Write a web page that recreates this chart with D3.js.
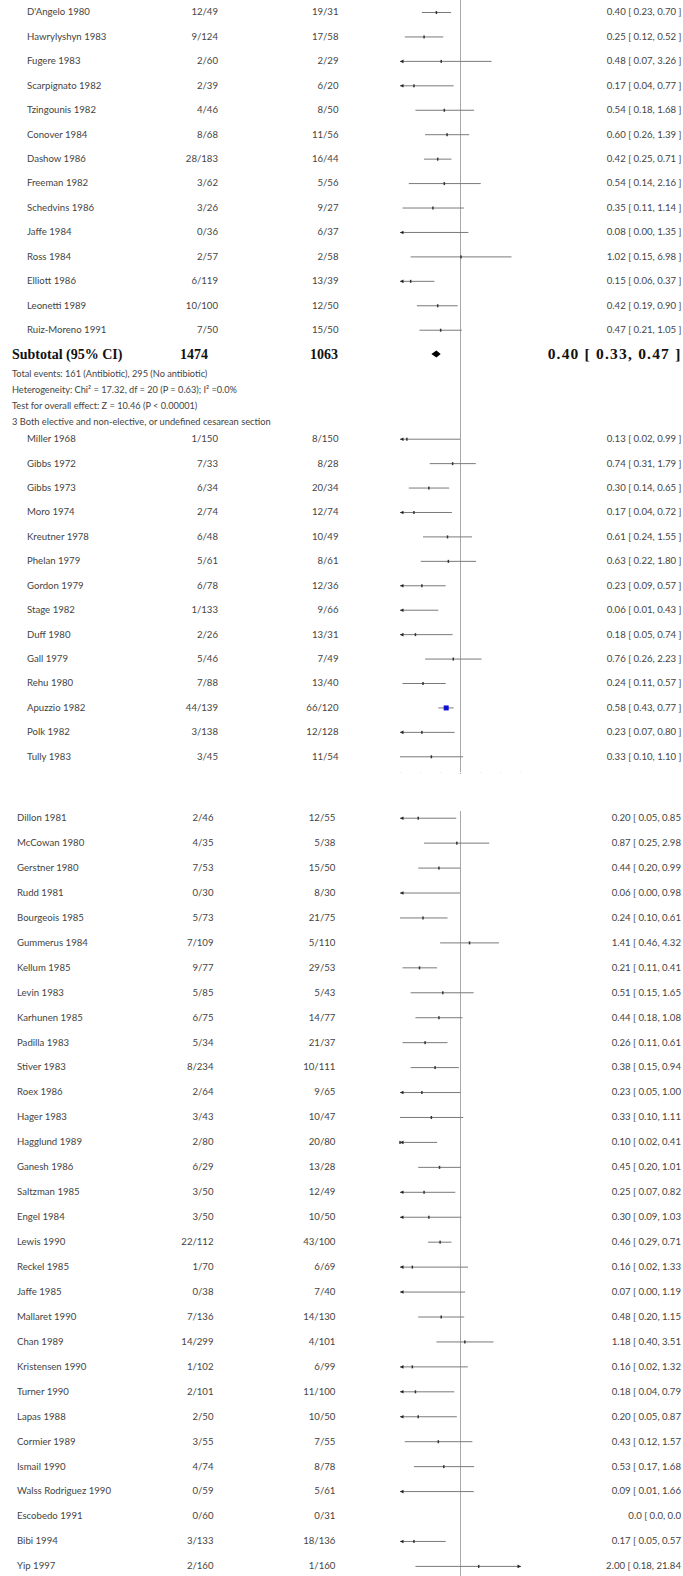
<!DOCTYPE html>
<html>
<head>
<meta charset="utf-8">
<script src="https://cdn.jsdelivr.net/npm/d3@7"></script>
<style>
  html, body { margin: 0; padding: 0; background: #fff; overflow: hidden; }
  svg { display: block; }
  text { font-family: Lato, "Noto Sans", sans-serif; fill: #444; }
  .bold { font-family: "Liberation Serif", "DejaVu Serif", serif; font-weight: bold; fill: #111; }
</style>
</head>
<body>
<svg id="chart" width="683" height="1576"></svg>
<script>
// ---- Group 2: elective cesarean section (continued) ----
const studiesA = ["D'Angelo 1980", "Hawrylyshyn 1983", "Fugere 1983", "Scarpignato 1982", "Tzingounis 1982",
  "Conover 1984", "Dashow 1986", "Freeman 1982", "Schedvins 1986", "Jaffe 1984", "Ross 1984",
  "Elliott 1986", "Leonetti 1989", "Ruiz-Moreno 1991"];
const antibioticA = [[12,49],[9,124],[2,60],[2,39],[4,46],[8,68],[28,183],[3,62],[3,26],[0,36],[2,57],[6,119],[10,100],[7,50]];
const controlA = [[19,31],[17,58],[2,29],[6,20],[8,50],[11,56],[16,44],[5,56],[9,27],[6,37],[2,58],[13,39],[12,50],[15,50]];
const rrA = [0.40, 0.25, 0.48, 0.17, 0.54, 0.60, 0.42, 0.54, 0.35, 0.08, 1.02, 0.15, 0.42, 0.47];
const loA = [0.23, 0.12, 0.07, 0.04, 0.18, 0.26, 0.25, 0.14, 0.11, 0.00, 0.15, 0.06, 0.19, 0.21];
const hiA = [0.70, 0.52, 3.26, 0.77, 1.68, 1.39, 0.71, 2.16, 1.14, 1.35, 6.98, 0.37, 0.90, 1.05];

// Subtotal for the group
const subtotalLabel = "Subtotal (95% CI)";
const subtotalN = [1474, 1063];
const subtotalRR = [0.40, 0.33, 0.47];
const footnotes = [
  "Total events: 161 (Antibiotic), 295 (No antibiotic)",
  "Heterogeneity: Chi\u00B2 = 17.32, df = 20 (P = 0.63); I\u00B2 =0.0%",
  "Test for overall effect: Z = 10.46 (P < 0.00001)"
];
const groupTitle = "3 Both elective and non-elective, or undefined cesarean section";

// ---- Group 3 ----
const studiesB = ["Miller 1968", "Gibbs 1972", "Gibbs 1973", "Moro 1974", "Kreutner 1978", "Phelan 1979",
  "Gordon 1979", "Stage 1982", "Duff 1980", "Gall 1979", "Rehu 1980", "Apuzzio 1982", "Polk 1982", "Tully 1983"];
const antibioticB = [[1,150],[7,33],[6,34],[2,74],[6,48],[5,61],[6,78],[1,133],[2,26],[5,46],[7,88],[44,139],[3,138],[3,45]];
const controlB = [[8,150],[8,28],[20,34],[12,74],[10,49],[8,61],[12,36],[9,66],[13,31],[7,49],[13,40],[66,120],[12,128],[11,54]];
const rrB = [0.13, 0.74, 0.30, 0.17, 0.61, 0.63, 0.23, 0.06, 0.18, 0.76, 0.24, 0.58, 0.23, 0.33];
const loB = [0.02, 0.31, 0.14, 0.04, 0.24, 0.22, 0.09, 0.01, 0.05, 0.26, 0.11, 0.43, 0.07, 0.10];
const hiB = [0.99, 1.79, 0.65, 0.72, 1.55, 1.80, 0.57, 0.43, 0.74, 2.23, 0.57, 0.77, 0.80, 1.10];

// ---- Group 3 (continued) ----
const studiesC = ["Dillon 1981", "McCowan 1980", "Gerstner 1980", "Rudd 1981", "Bourgeois 1985", "Gummerus 1984",
  "Kellum 1985", "Levin 1983", "Karhunen 1985", "Padilla 1983", "Stiver 1983", "Roex 1986", "Hager 1983",
  "Hagglund 1989", "Ganesh 1986", "Saltzman 1985", "Engel 1984", "Lewis 1990", "Reckel 1985", "Jaffe 1985",
  "Mallaret 1990", "Chan 1989", "Kristensen 1990", "Turner 1990", "Lapas 1988", "Cormier 1989", "Ismail 1990",
  "Walss Rodriguez 1990", "Escobedo 1991", "Bibi 1994", "Yip 1997"];
const antibioticC = [[2,46],[4,35],[7,53],[0,30],[5,73],[7,109],[9,77],[5,85],[6,75],[5,34],[8,234],[2,64],[3,43],
  [2,80],[6,29],[3,50],[3,50],[22,112],[1,70],[0,38],[7,136],[14,299],[1,102],[2,101],[2,50],[3,55],[4,74],
  [0,59],[0,60],[3,133],[2,160]];
const controlC = [[12,55],[5,38],[15,50],[8,30],[21,75],[5,110],[29,53],[5,43],[14,77],[21,37],[10,111],[9,65],[10,47],
  [20,80],[13,28],[12,49],[10,50],[43,100],[6,69],[7,40],[14,130],[4,101],[6,99],[11,100],[10,50],[7,55],[8,78],
  [5,61],[0,31],[18,136],[1,160]];
const rrC = [0.20, 0.87, 0.44, 0.06, 0.24, 1.41, 0.21, 0.51, 0.44, 0.26, 0.38, 0.23, 0.33, 0.10, 0.45, 0.25, 0.30,
  0.46, 0.16, 0.07, 0.48, 1.18, 0.16, 0.18, 0.20, 0.43, 0.53, 0.09, 0, 0.17, 2.00];
const loC = [0.05, 0.25, 0.20, 0.00, 0.10, 0.46, 0.11, 0.15, 0.18, 0.11, 0.15, 0.05, 0.10, 0.02, 0.20, 0.07, 0.09,
  0.29, 0.02, 0.00, 0.20, 0.40, 0.02, 0.04, 0.05, 0.12, 0.17, 0.01, 0, 0.05, 0.18];
const hiC = [0.85, 2.98, 0.99, 0.98, 0.61, 4.32, 0.41, 1.65, 1.08, 0.61, 0.94, 1.00, 1.11, 0.41, 1.01, 0.82, 1.03,
  0.71, 1.33, 1.19, 1.15, 3.51, 1.32, 0.79, 0.87, 1.57, 1.68, 1.66, 0, 0.57, 21.84];

// Risk-ratio axis (log scale, 0.1 to 10)
const axisDomain = [0.1, 10];
const highlighted = "Apuzzio 1982";

const svg = d3.select("#chart");
const x = d3.scaleLog().domain(axisDomain).range([400, 521]).clamp(true);
const f2 = d3.format(".2f");

// "rr [ lo, hi ]"; the lower panel's column runs to the page edge, so its closing bracket is dropped
function statText(rr, lo, hi, closed = true) {
  const body = hi === 0 ? "0.0 [ 0.0, 0.0" : `${f2(rr)} [ ${f2(lo)}, ${f2(hi)}`;
  return closed ? body + " ]" : body;
}

function zip(names, ab, ct, rr, lo, hi) {
  return names.map((n, i) => ({ name: n, ab: ab[i], ct: ct[i], rr: rr[i], lo: lo[i], hi: hi[i] }));
}

const fs = 9.6;

function drawRows(rows, o) {
  const y = d3.scaleLinear().domain([0, 1]).range([o.y0, o.y0 + o.step]);
  const g = svg.append("g");
  const row = g.selectAll("g.row").data(rows).join("g").attr("class", "row")
    .attr("transform", (d, i) => `translate(0,${y(i)})`);

  row.append("text").attr("x", o.nameX).attr("dy", "0.35em").attr("font-size", fs).text(d => d.name);
  row.append("text").attr("x", o.abX).attr("dy", "0.35em").attr("font-size", fs).attr("text-anchor", "end")
    .text(d => `${d.ab[0]}/${d.ab[1]}`);
  row.append("text").attr("x", o.ctX).attr("dy", "0.35em").attr("font-size", fs).attr("text-anchor", "end")
    .text(d => `${d.ct[0]}/${d.ct[1]}`);
  row.append("text").attr("x", o.statX).attr("dy", "0.35em").attr("font-size", fs).attr("text-anchor", "end")
    .text(d => statText(d.rr, d.lo, d.hi, o.closed));

  const est = row.filter(d => d.hi > 0);
  est.append("line")
    .attr("x1", d => x(Math.max(d.lo, axisDomain[0]))).attr("x2", d => x(Math.min(d.hi, axisDomain[1])))
    .attr("y1", 0.5).attr("y2", 0.5).attr("stroke", "#7a7a7a").attr("stroke-width", 1);
  // arrowheads where the interval runs off the axis
  est.filter(d => d.lo < axisDomain[0]).append("path")
    .attr("d", `M${x(axisDomain[0])},0.5 l3.5,-1.8 v3.6 z`).attr("fill", "#222");
  est.filter(d => d.hi > axisDomain[1]).append("path")
    .attr("d", `M${x(axisDomain[1])},0.5 l-3.5,-1.8 v3.6 z`).attr("fill", "#222");
  // point estimates
  est.filter(d => d.rr >= axisDomain[0] && d.rr <= axisDomain[1]).append("rect")
    .attr("x", d => x(d.rr) - (d.name === highlighted ? 2.5 : 0.75))
    .attr("y", d => d.name === highlighted ? -2 : -1)
    .attr("width", d => d.name === highlighted ? 5 : 1.5)
    .attr("height", d => d.name === highlighted ? 5 : 3)
    .attr("fill", d => d.name === highlighted ? "#1010d0" : "#333");
  return y;
}

// line of no effect, upper panel
svg.append("line").attr("x1", x(1)).attr("x2", x(1)).attr("y1", 0).attr("y2", 774)
  .attr("stroke", "#a8a8a8").attr("stroke-width", 1);
// faint axis remnant under the upper panel
svg.append("line").attr("x1", x(axisDomain[0])).attr("x2", x(axisDomain[1])).attr("y1", 772.5).attr("y2", 772.5)
  .attr("stroke", "#eeeeee").attr("stroke-dasharray", "1.5,18.5");
// line of no effect, lower panel
svg.append("line").attr("x1", x(1)).attr("x2", x(1)).attr("y1", 811).attr("y2", 1576)
  .attr("stroke", "#a8a8a8").attr("stroke-width", 1);

const colsUpper = { nameX: 27, abX: 218, ctX: 338.5, statX: 681.5, closed: true };
drawRows(zip(studiesA, antibioticA, controlA, rrA, loA, hiA), { y0: 12, step: 24.44, ...colsUpper });

// subtotal row
const ySub = 354;
svg.append("text").attr("class", "bold").attr("x", 12).attr("y", ySub).attr("dy", "0.35em").attr("font-size", 14)
  .text(subtotalLabel);
svg.append("text").attr("class", "bold").attr("x", 208).attr("y", ySub).attr("dy", "0.35em").attr("font-size", 14)
  .attr("text-anchor", "end").text(subtotalN[0]);
svg.append("text").attr("class", "bold").attr("x", 338).attr("y", ySub).attr("dy", "0.35em").attr("font-size", 14)
  .attr("text-anchor", "end").text(subtotalN[1]);
svg.append("text").attr("class", "bold").attr("x", 681.5).attr("y", ySub).attr("dy", "0.35em").attr("font-size", 15.5)
  .attr("text-anchor", "end").attr("letter-spacing", 1.2)
  .text(statText(...subtotalRR));
const [sRR, sLo, sHi] = subtotalRR;
svg.append("path")
  .attr("d", `M${x(sLo)},${ySub} L${x(sRR)},${ySub - 3.5} L${x(sHi)},${ySub} L${x(sRR)},${ySub + 3.5} Z`)
  .attr("fill", "#000");

// heterogeneity and overall-effect notes, then the next group's heading
const noteY = [373.5, 389.5, 405.5];
svg.selectAll("text.note").data(footnotes).join("text").attr("class", "note")
  .attr("x", 12).attr("y", (d, i) => noteY[i]).attr("dy", "0.35em").attr("font-size", 9.2).text(d => d);
svg.append("text").attr("x", 12).attr("y", 422).attr("dy", "0.35em").attr("font-size", 9.3).text(groupTitle);

drawRows(zip(studiesB, antibioticB, controlB, rrB, loB, hiB), { y0: 438.7, step: 24.43, ...colsUpper });

drawRows(zip(studiesC, antibioticC, controlC, rrC, loC, hiC),
  { y0: 817.7, step: 24.94, nameX: 17, abX: 213.5, ctX: 335.4, statX: 681, closed: false });
</script>
</body>
</html>
